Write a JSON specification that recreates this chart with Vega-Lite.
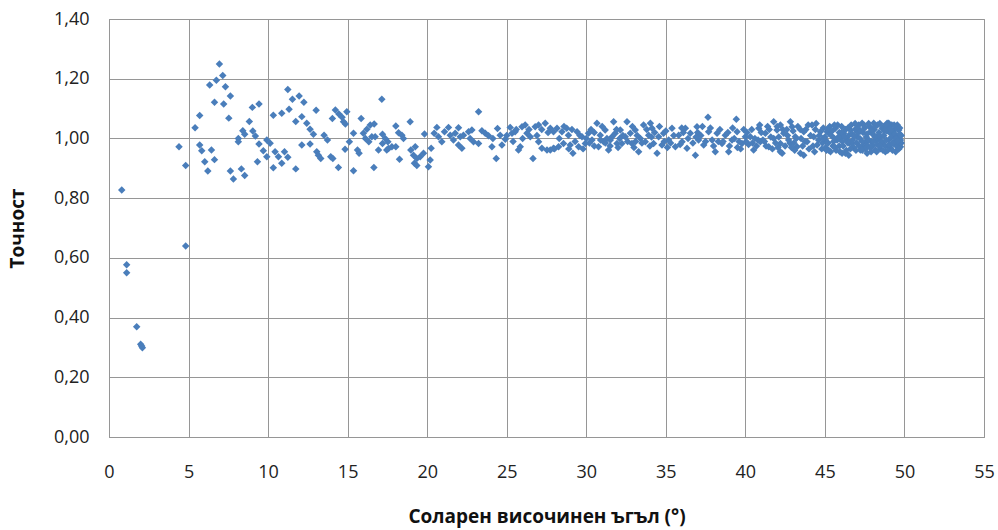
{
"$schema": "https://vega.github.io/schema/vega-lite/v6.json",
"width": 875, "height": 418,
"autosize": {"type": "none"},
"padding": {"left": 109, "top": 19, "right": 14, "bottom": 93},
"background": "white",
"config": {"view": {"stroke": "#969696", "strokeWidth": 1}, "font": "Open Sans"},
"data": {"values": [
{"x":0.80,"y":0.827},{"x":1.11,"y":0.577},{"x":1.11,"y":0.550},{"x":1.74,"y":0.369},{"x":1.99,"y":0.311},{"x":2.05,"y":0.305},{"x":2.10,"y":0.299},
{"x":4.40,"y":0.972},{"x":4.82,"y":0.909},{"x":4.82,"y":0.640},{"x":5.41,"y":1.036},{"x":5.70,"y":1.077},{"x":5.70,"y":0.978},{"x":5.83,"y":0.959},{"x":6.02,"y":0.922},{"x":6.21,"y":0.891},{"x":6.44,"y":0.961},{"x":6.63,"y":0.929},{"x":6.33,"y":1.179},{"x":6.63,"y":1.121},{"x":6.75,"y":1.195},{"x":6.94,"y":1.249},{"x":7.15,"y":1.211},{"x":7.32,"y":1.173},{"x":7.21,"y":1.115},{"x":7.63,"y":1.142},{"x":7.53,"y":1.068},{"x":7.63,"y":0.891},{"x":7.82,"y":0.864},{"x":8.13,"y":1.000},{"x":8.13,"y":0.989},{"x":8.32,"y":0.898},{"x":8.53,"y":0.876},{"x":8.41,"y":1.026},{"x":8.53,"y":1.014},{"x":8.82,"y":1.057},{"x":9.01,"y":1.104},{"x":9.43,"y":1.115},{"x":9.04,"y":1.025},{"x":9.20,"y":1.008},{"x":9.43,"y":0.981},{"x":9.70,"y":0.959},{"x":9.33,"y":0.922},{"x":9.92,"y":0.939},{"x":9.92,"y":0.995},{"x":10.13,"y":0.984},{"x":10.33,"y":1.078},{"x":10.44,"y":0.955},{"x":10.33,"y":0.902},{"x":10.65,"y":0.939},{"x":10.86,"y":0.917},{"x":10.86,"y":1.084},{"x":11.03,"y":0.955},{"x":11.24,"y":0.937},{"x":11.74,"y":0.898},{"x":11.24,"y":1.164},{"x":11.32,"y":1.098},{"x":11.53,"y":1.131},{"x":11.95,"y":1.142},{"x":12.25,"y":1.121},{"x":11.74,"y":1.057},{"x":12.12,"y":1.073},{"x":12.43,"y":1.051},{"x":12.64,"y":1.031},{"x":12.85,"y":1.014},{"x":12.12,"y":0.978},{"x":12.64,"y":0.981},{"x":13.02,"y":1.094},{"x":13.06,"y":0.955},{"x":13.16,"y":0.944},{"x":13.31,"y":0.933},{"x":13.52,"y":1.011},{"x":13.73,"y":0.995},{"x":13.94,"y":0.939},{"x":14.07,"y":0.933},{"x":14.42,"y":0.903},{"x":14.04,"y":1.067},{"x":14.23,"y":1.095},{"x":14.45,"y":1.082},{"x":14.65,"y":1.071},{"x":14.86,"y":1.048},{"x":14.95,"y":1.089},{"x":14.84,"y":0.964},{"x":14.74,"y":1.056},
{"x":15.37,"y":1.017},{"x":15.11,"y":0.989},{"x":15.37,"y":0.892},{"x":15.62,"y":0.961},{"x":15.72,"y":0.950},{"x":15.85,"y":1.067},{"x":15.99,"y":1.017},{"x":16.21,"y":1.031},{"x":16.42,"y":1.045},{"x":16.12,"y":1.000},{"x":16.33,"y":0.989},{"x":16.52,"y":1.006},{"x":16.67,"y":1.048},{"x":16.73,"y":1.006},{"x":16.94,"y":0.961},{"x":16.65,"y":0.903},{"x":17.15,"y":1.131},{"x":17.19,"y":1.014},{"x":17.36,"y":1.000},{"x":17.53,"y":0.989},{"x":17.19,"y":0.983},{"x":17.46,"y":0.961},{"x":17.57,"y":0.966},{"x":17.78,"y":0.972},{"x":18.03,"y":1.042},{"x":18.20,"y":1.019},{"x":18.41,"y":1.011},{"x":18.51,"y":1.000},{"x":18.26,"y":0.930},{"x":18.03,"y":0.972},{"x":18.93,"y":1.056},{"x":18.97,"y":0.961},{"x":19.14,"y":0.944},{"x":19.25,"y":0.972},{"x":19.35,"y":0.933},{"x":19.20,"y":0.917},{"x":19.35,"y":0.909},{"x":19.56,"y":0.939},{"x":19.77,"y":0.950},{"x":20.08,"y":0.905},{"x":20.19,"y":0.928},{"x":20.25,"y":0.967},{"x":19.83,"y":1.015},{"x":20.61,"y":1.037},{"x":20.44,"y":1.017},{"x":20.71,"y":1.006},{"x":20.92,"y":0.989},{"x":21.09,"y":1.022},{"x":21.34,"y":1.037},{"x":21.45,"y":1.011},{"x":21.65,"y":0.995},{"x":21.97,"y":1.036},{"x":21.76,"y":1.017},{"x":22.08,"y":1.006},{"x":21.97,"y":0.978},{"x":22.18,"y":0.967},{"x":22.28,"y":1.011},{"x":22.60,"y":1.022},{"x":22.70,"y":1.000},{"x":22.81,"y":1.028},{"x":22.91,"y":0.989},{"x":23.23,"y":1.089},{"x":23.23,"y":0.983},{"x":23.44,"y":1.026},{"x":23.65,"y":1.017},{"x":23.86,"y":1.009},{"x":24.07,"y":0.972},{"x":24.34,"y":0.933},{"x":24.42,"y":1.033},
{"x":24.13,"y":1.000},{"x":24.59,"y":1.011},{"x":24.70,"y":0.978},{"x":24.91,"y":0.997},{"x":25.22,"y":1.037},{"x":25.33,"y":1.017},{"x":25.53,"y":1.022},{"x":25.74,"y":0.961},{"x":25.85,"y":0.972},{"x":25.96,"y":1.039},{"x":26.16,"y":1.045},{"x":26.27,"y":1.017},{"x":26.48,"y":1.006},{"x":26.65,"y":0.933},{"x":26.79,"y":1.039},{"x":27.00,"y":1.045},{"x":27.00,"y":0.989},{"x":27.21,"y":0.967},{"x":27.42,"y":1.051},{"x":27.53,"y":0.961},{"x":27.74,"y":1.034},{"x":27.74,"y":0.961},{"x":27.94,"y":1.022},{"x":27.94,"y":0.967},{"x":28.16,"y":1.034},{"x":28.26,"y":0.972},{"x":28.47,"y":1.022},{"x":28.57,"y":0.983},{"x":28.77,"y":1.034},{"x":28.88,"y":1.011},{"x":28.99,"y":0.978},{"x":29.16,"y":0.950},{"x":29.42,"y":1.022},{"x":29.52,"y":0.972},{"x":29.73,"y":1.006},{"x":29.94,"y":0.983},{"x":30.14,"y":1.017},{"x":30.36,"y":0.995},{"x":30.67,"y":1.051},{"x":30.77,"y":0.972},{"x":30.88,"y":1.011},{"x":31.09,"y":0.989},{"x":31.19,"y":1.028},{"x":31.40,"y":0.961},{"x":31.62,"y":1.006},{"x":31.72,"y":1.056},{"x":31.93,"y":0.983},{"x":31.51,"y":0.995},{"x":31.82,"y":1.017},{"x":32.14,"y":1.028},{"x":32.24,"y":0.983},{"x":32.56,"y":1.056},{"x":32.45,"y":1.006},{"x":32.77,"y":1.017},{"x":32.87,"y":0.983},{"x":33.08,"y":1.028},{"x":33.29,"y":0.955},{"x":33.40,"y":1.000},{"x":33.60,"y":1.045},{"x":33.71,"y":0.989},{"x":33.92,"y":1.011},{"x":34.03,"y":1.051},{"x":34.13,"y":1.034},{"x":34.23,"y":0.983},{"x":34.45,"y":0.950},{"x":34.55,"y":1.006},{"x":34.76,"y":0.978},{"x":34.86,"y":1.017},{"x":35.18,"y":0.995},{"x":35.39,"y":1.034},{"x":35.60,"y":0.972},{"x":35.81,"y":1.011},{"x":36.02,"y":0.989},{"x":36.23,"y":1.034},{"x":36.33,"y":0.967},{"x":36.54,"y":1.017},{"x":36.86,"y":0.944},{"x":36.96,"y":1.039},{"x":37.06,"y":0.995},{"x":37.38,"y":0.978},{"x":37.65,"y":1.071},{"x":37.69,"y":1.022},{"x":37.91,"y":0.995},{"x":38.11,"y":0.955},{"x":38.22,"y":1.017},{"x":38.53,"y":0.983},{"x":38.74,"y":1.011},{"x":38.95,"y":0.955},{"x":39.16,"y":0.995},{"x":39.43,"y":1.064},{"x":39.48,"y":1.022},{"x":39.79,"y":0.983},{"x":40.00,"y":1.006},
{"x":25.0,"y":1.010},{"x":25.4,"y":0.990},{"x":25.6,"y":1.030},{"x":26.0,"y":1.000},{"x":26.4,"y":1.030},{"x":26.9,"y":1.010},{"x":27.2,"y":1.030},{"x":27.6,"y":1.020},{"x":28.0,"y":0.965},{"x":28.3,"y":1.000},{"x":28.6,"y":1.040},{"x":28.9,"y":0.965},{"x":29.1,"y":1.030},{"x":29.3,"y":0.990},{"x":29.6,"y":1.010},{"x":29.8,"y":0.965},{"x":30.0,"y":1.000},{"x":30.2,"y":0.985},{"x":30.5,"y":1.020},{"x":30.5,"y":0.975},{"x":30.9,"y":0.995},{"x":31.0,"y":1.040},{"x":31.3,"y":1.000},{"x":31.5,"y":0.975},{"x":31.9,"y":1.030},{"x":32.0,"y":0.970},{"x":32.3,"y":1.010},{"x":32.6,"y":0.990},{"x":32.9,"y":1.040},{"x":33.0,"y":0.970},{"x":33.2,"y":1.010},{"x":33.5,"y":0.985},{"x":33.8,"y":1.030},{"x":34.0,"y":0.975},{"x":34.3,"y":1.020},{"x":34.6,"y":1.040},{"x":34.9,"y":0.990},{"x":35.0,"y":1.025},{"x":35.3,"y":0.985},{"x":35.5,"y":1.010},{"x":35.9,"y":0.980},{"x":36.1,"y":1.020},{"x":36.4,"y":1.000},{"x":36.7,"y":0.985},{"x":37.0,"y":1.020},{"x":37.2,"y":1.010},{"x":37.5,"y":0.990},{"x":37.8,"y":1.035},{"x":38.0,"y":0.975},{"x":38.4,"y":1.030},{"x":38.6,"y":0.990},{"x":38.9,"y":1.020},{"x":39.0,"y":0.975},{"x":39.3,"y":1.000},{"x":39.6,"y":0.990},{"x":39.9,"y":1.030},
{"x":30.3,"y":1.030},{"x":31.2,"y":0.985},{"x":32.1,"y":1.000},{"x":33.1,"y":0.990},{"x":34.1,"y":1.005},{"x":35.1,"y":0.970},{"x":36.0,"y":1.035},{"x":36.9,"y":1.005},{"x":37.3,"y":1.040},{"x":38.3,"y":0.990},{"x":39.2,"y":1.035},{"x":39.5,"y":0.970},
{"x":40.31,"y":1.006},{"x":40.52,"y":0.961},{"x":40.84,"y":1.034},{"x":40.94,"y":0.989},{"x":41.26,"y":1.017},{"x":41.47,"y":0.972},{"x":41.78,"y":1.056},{"x":41.78,"y":1.000},{"x":41.99,"y":1.028},{"x":42.20,"y":0.983},{"x":42.31,"y":0.950},{"x":42.41,"y":1.017},{"x":42.83,"y":1.056},{"x":42.94,"y":1.039},{"x":42.72,"y":0.995},{"x":43.14,"y":1.006},{"x":43.25,"y":0.972},{"x":43.46,"y":0.950},{"x":43.67,"y":1.022},{"x":43.88,"y":0.989},{"x":44.19,"y":1.045},{"x":44.30,"y":1.006},{"x":44.51,"y":0.978},{"x":44.72,"y":1.022},{"x":45.03,"y":0.995},{"x":45.24,"y":1.017},
{"x":40.1,"y":1.020},{"x":40.2,"y":0.980},{"x":40.4,"y":1.030},{"x":40.6,"y":1.000},{"x":40.7,"y":0.975},{"x":41.0,"y":1.020},{"x":41.1,"y":0.995},{"x":41.3,"y":0.975},{"x":41.5,"y":1.030},{"x":41.6,"y":1.005},{"x":41.9,"y":0.985},{"x":42.0,"y":1.040},{"x":42.1,"y":1.005},{"x":42.5,"y":0.975},{"x":42.6,"y":1.030},{"x":42.8,"y":0.985},{"x":43.0,"y":1.025},{"x":43.1,"y":0.960},{"x":43.3,"y":1.040},{"x":43.5,"y":1.000},{"x":43.6,"y":0.975},{"x":43.8,"y":1.030},{"x":44.0,"y":0.965},{"x":44.1,"y":1.010},{"x":44.4,"y":1.030},{"x":44.6,"y":0.995},{"x":44.8,"y":0.965},{"x":44.9,"y":1.035},{"x":42.2,"y":1.045},{"x":40.8,"y":0.995},{"x":39.7,"y":0.965},{"x":43.67,"y":0.944},{"x":42.2,"y":0.955},
{"x":40.05,"y":0.990},{"x":40.45,"y":0.985},{"x":40.9,"y":1.045},{"x":41.2,"y":0.990},{"x":41.4,"y":1.040},{"x":41.7,"y":0.965},{"x":42.05,"y":0.970},{"x":42.35,"y":1.030},{"x":42.65,"y":1.010},{"x":42.9,"y":0.970},{"x":43.2,"y":1.000},{"x":43.45,"y":1.030},{"x":43.75,"y":0.990},{"x":43.95,"y":1.045},{"x":44.25,"y":0.975},{"x":44.45,"y":1.050},{"x":44.65,"y":1.010},{"x":44.85,"y":0.985},{"x":44.35,"y":0.955},{"x":43.05,"y":0.985},
{"x":45.14,"y":1.022},{"x":45.35,"y":0.955},{"x":45.66,"y":1.034},{"x":45.77,"y":0.995},{"x":46.08,"y":0.950},{"x":46.18,"y":1.017},{"x":46.29,"y":0.950},{"x":46.50,"y":0.944},{"x":46.60,"y":1.028},{"x":46.71,"y":0.983},{"x":47.02,"y":1.006},{"x":47.13,"y":1.045},{"x":47.23,"y":0.961},{"x":47.34,"y":1.051},{"x":47.55,"y":0.989},{"x":47.65,"y":0.950},{"x":47.86,"y":1.022},{"x":48.07,"y":1.051},{"x":48.18,"y":0.961},{"x":48.38,"y":1.000},{"x":48.60,"y":1.034},{"x":48.80,"y":0.955},{"x":48.91,"y":1.051},{"x":49.12,"y":1.017},{"x":49.33,"y":0.983},{"x":49.54,"y":1.006},{"x":49.75,"y":0.995},{"x":49.64,"y":1.028},{"x":49.75,"y":0.972},{"x":49.01,"y":1.051},
{"x":45.0,"y":1.005},{"x":45.2,"y":0.985},{"x":45.4,"y":1.010},{"x":45.5,"y":0.975},{"x":45.6,"y":1.000},{"x":45.9,"y":1.020},{"x":45.9,"y":0.975},{"x":46.0,"y":1.005},{"x":46.1,"y":0.990},{"x":46.3,"y":1.030},{"x":46.4,"y":0.995},{"x":46.5,"y":1.010},{"x":46.7,"y":1.015},{"x":46.8,"y":0.970},{"x":46.9,"y":1.030},{"x":47.0,"y":0.985},{"x":47.1,"y":1.020},{"x":47.2,"y":1.000},{"x":47.4,"y":1.020},{"x":47.4,"y":0.975},{"x":47.5,"y":1.035},{"x":47.6,"y":1.005},{"x":47.7,"y":0.975},{"x":47.8,"y":1.040},{"x":47.9,"y":0.990},{"x":48.0,"y":1.015},{"x":48.0,"y":0.975},{"x":48.1,"y":1.030},{"x":48.2,"y":0.995},{"x":48.3,"y":1.045},{"x":48.3,"y":0.980},{"x":48.4,"y":1.020},{"x":48.5,"y":0.965},{"x":48.5,"y":1.005},{"x":48.6,"y":0.985},{"x":48.7,"y":1.040},{"x":48.7,"y":1.010},{"x":48.8,"y":0.975},{"x":48.9,"y":1.025},{"x":49.0,"y":0.995},{"x":49.0,"y":1.040},{"x":49.1,"y":0.970},{"x":49.2,"y":1.005},{"x":49.2,"y":1.045},{"x":49.3,"y":1.025},{"x":49.4,"y":0.990},{"x":49.4,"y":1.015},{"x":49.5,"y":0.975},{"x":49.5,"y":1.035},{"x":49.6,"y":1.000},{"x":49.6,"y":0.985},{"x":49.7,"y":1.015},{"x":49.45,"y":0.955},{"x":48.95,"y":0.960},{"x":47.9,"y":0.955},{"x":46.6,"y":0.965},{"x":45.7,"y":0.960},{"x":45.3,"y":1.040},{"x":44.9,"y":1.000},{"x":45.8,"y":1.045},
{"x":45.05,"y":0.970},{"x":45.15,"y":1.030},{"x":45.25,"y":0.960},{"x":45.45,"y":1.025},{"x":45.55,"y":0.990},{"x":45.65,"y":0.970},{"x":45.85,"y":1.005},{"x":45.95,"y":0.955},{"x":46.05,"y":1.040},{"x":46.15,"y":0.975},{"x":46.25,"y":1.005},{"x":46.35,"y":0.960},{"x":46.45,"y":1.035},{"x":46.55,"y":0.985},{"x":46.65,"y":1.045},{"x":46.75,"y":0.995},{"x":46.85,"y":1.010},{"x":46.95,"y":0.960},{"x":47.05,"y":1.035},{"x":47.15,"y":0.975},{"x":47.25,"y":1.025},{"x":47.35,"y":0.990},{"x":47.45,"y":1.045},{"x":47.55,"y":0.965},{"x":47.65,"y":1.015},{"x":47.75,"y":0.995},{"x":47.85,"y":0.970},{"x":47.95,"y":1.030},{"x":48.05,"y":0.990},{"x":48.15,"y":1.040},{"x":48.25,"y":0.955},{"x":48.35,"y":1.010},{"x":48.45,"y":1.050},{"x":48.55,"y":0.990},{"x":48.65,"y":0.960},{"x":48.75,"y":1.025},{"x":48.85,"y":0.995},{"x":48.95,"y":1.035},{"x":49.05,"y":0.980},{"x":49.15,"y":1.030},{"x":49.25,"y":0.960},{"x":49.35,"y":1.045},{"x":49.45,"y":1.000},{"x":49.55,"y":1.045},{"x":49.65,"y":0.965},{"x":49.70,"y":1.035},{"x":49.80,"y":1.010},{"x":49.80,"y":0.985},{"x":49.55,"y":0.990},{"x":49.25,"y":0.985},{"x":48.85,"y":1.045},{"x":48.45,"y":0.975},{"x":48.15,"y":1.005},{"x":47.75,"y":1.050},{"x":47.35,"y":0.960},{"x":46.90,"y":1.050},{"x":46.45,"y":0.985},{"x":46.05,"y":1.020},{"x":45.60,"y":1.045},{"x":45.10,"y":0.960}
]},
"mark": {"type": "point", "shape": "diamond", "filled": true, "size": 56, "color": "#4A7EBB", "opacity": 1},
"encoding": {
"x": {"field": "x", "type": "quantitative",
 "scale": {"domain": [0, 55], "nice": false},
 "axis": {"values": [0,5,10,15,20,25,30,35,40,45,50,55], "labelFlush": false, "title": "Соларен височинен ъгъл (°)", "grid": true, "gridColor": "#969696", "domainColor": "#969696", "ticks": false, "labelPadding": 26, "labelFontSize": 18, "labelColor": "#222222", "labelFont": "Open Sans", "titleFont": "Open Sans", "titleFontSize": 19, "titleFontWeight": "bold", "titleColor": "#111111", "titlePadding": 26}},
"y": {"field": "y", "type": "quantitative",
 "scale": {"domain": [0, 1.4], "nice": false},
 "axis": {"values": [0,0.2,0.4,0.6,0.8,1.0,1.2,1.4], "labelFlush": false, "labelExpr": "replace(format(datum.value, '.2f'), '.', ',')", "title": "Точност", "grid": true, "gridColor": "#969696", "domainColor": "#969696", "ticks": false, "labelPadding": 20, "labelFontSize": 18, "labelColor": "#222222", "labelFont": "Open Sans", "titleFont": "Open Sans", "titleFontSize": 19, "titleFontWeight": "bold", "titleColor": "#111111", "titlePadding": 26}}
}
}
